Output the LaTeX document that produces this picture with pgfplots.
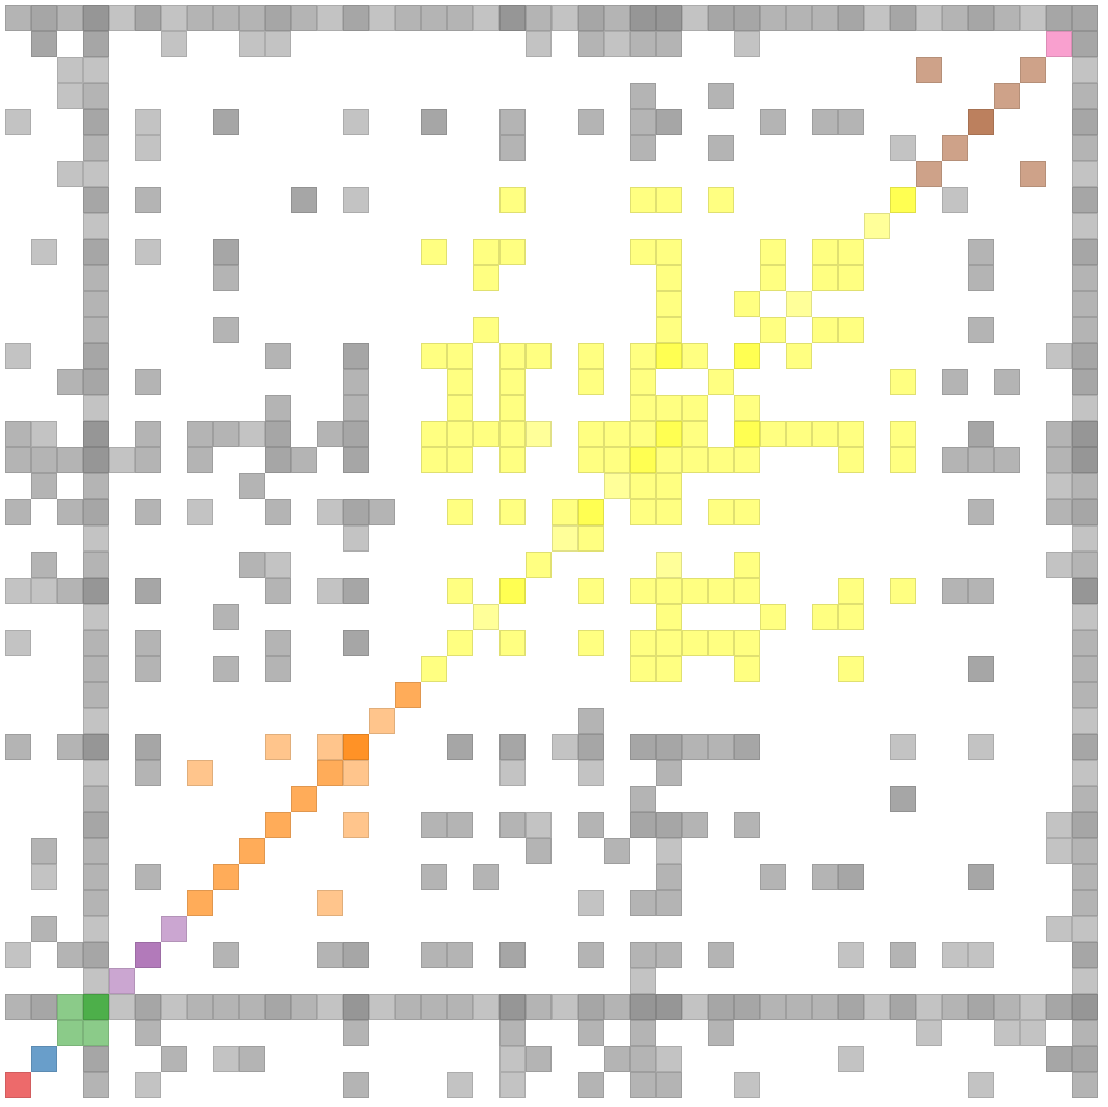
\documentclass[border=0pt]{standalone}
\usepackage{pgfplots}
\usepackage{pgfplotstable}
\pgfplotsset{compat=1.18}
\definecolor{sred}{HTML}{E41A1C}
\definecolor{sblue}{HTML}{377EB8}
\definecolor{sgreen}{HTML}{4DAF4A}
\definecolor{spurple}{HTML}{984EA3}
\definecolor{sorange}{HTML}{FF7F00}
\definecolor{syellow}{HTML}{FFFF33}
\definecolor{sbrown}{HTML}{A65628}
\definecolor{spink}{HTML}{F781BF}
\definecolor{grLc}{HTML}{C3C3C3}
\definecolor{grMc}{HTML}{B4B4B4}
\definecolor{grDc}{HTML}{A6A6A6}
\definecolor{grXc}{HTML}{969696}
\pgfplotsset{cell/.style={only marks, mark=square*, mark size=4.8pt,
  mark options={fill=#1, draw=#1!88!black, line width=0.4pt, solid}}}
\newcommand\sym[2]{%
  \addplot[cell=#1] table[x=a,y=b]{#2};
  \addplot[cell=#1] table[x=b,y=a]{#2};}
% pairs a<=b, drawn in both orientations (symmetric matrix)
\pgfplotstableread{
a b
4 41
6 41
12 41
14 41
18 41
21 41
26 41
33 41
35 41
39 41
3 4
3 6
3 12
3 14
3 18
3 21
3 26
3 33
3 35
3 39
6 40
9 40
10 40
20 40
23 40
28 40
2 39
2 38
0 37
5 37
13 37
5 36
34 36
2 35
13 34
1 32
5 32
0 28
1 25
9 25
4 24
7 22
12 22
13 21
10 20
0 19
1 19
12 19
0 17
1 8
0 5
}\grL
\pgfplotstableread{
a b
0 41
2 41
7 41
8 41
9 41
11 41
15 41
16 41
17 41
20 41
23 41
29 41
30 41
31 41
36 41
38 41
0 3
3 7
3 8
3 9
3 11
3 15
3 16
3 17
3 20
3 23
3 29
3 30
3 31
3 36
3 38
22 40
24 40
25 40
24 38
27 38
19 37
22 37
24 37
29 37
31 37
32 37
19 36
24 36
27 36
5 34
8 31
8 29
10 28
2 27
5 27
13 27
10 26
13 26
0 25
5 25
7 25
8 25
12 25
0 24
1 24
2 24
5 24
7 24
11 24
1 23
9 23
0 22
2 22
5 22
10 22
14 22
1 20
9 20
2 19
10 19
8 18
5 17
10 17
5 16
8 16
10 16
0 13
2 13
5 12
1 9
5 8
1 6
2 5
}\grM
\pgfplotstableread{
a b
1 41
5 41
10 41
13 41
22 41
27 41
28 41
32 41
34 41
37 41
40 41
41 41
1 3
3 5
3 10
3 22
3 27
3 28
3 32
3 34
3 37
3 40
1 40
8 37
16 37
25 37
11 34
8 32
13 28
10 25
13 25
10 24
13 24
13 22
5 19
13 19
13 17
5 13
}\grD
\pgfplotstableread{
a b
3 41
19 41
24 41
25 41
3 13
3 19
3 24
3 25
}\grX
\pgfplotstableread{
a b
18 18
21 21
23 23
30 30
33 33
20 25
}\yeL
\pgfplotstableread{
a b
16 16
17 17
20 20
26 26
27 27
29 29
31 31
32 32
19 34
24 34
25 34
27 34
16 32
18 32
19 32
24 32
25 32
29 32
31 32
18 31
25 31
29 31
25 30
28 30
18 29
25 29
16 28
17 28
19 28
20 28
22 28
24 28
26 28
17 27
19 27
22 27
24 27
17 26
19 26
24 26
25 26
16 25
17 25
18 25
19 25
22 25
23 25
24 25
16 24
17 24
19 24
22 24
23 24
17 22
19 22
21 22
17 19
}\yeM
\pgfplotstableread{
a b
19 19
22 22
24 24
25 25
28 28
34 34
25 28
}\yeD
\pgfplotstableread{
a b
14 14
10 13
12 13
7 12
}\orL
\pgfplotstableread{
a b
7 7
8 8
9 9
10 10
11 11
12 12
15 15
}\orM
\pgfplotstableread{
a b
35 35
36 36
38 38
39 39
35 39
}\brM
\pgfplotstableread{
a b
4 4
6 6
}\puL
\pgfplotstableread{
a b
2 2
2 3
}\gnL
\begin{document}
\begin{tikzpicture}
\begin{axis}[scale only axis, width=425.7pt, height=425pt,
  xmin=-0.69, xmax=41.88, ymin=-0.81, ymax=41.69,
  axis line style={draw=none}, ticks=none, clip=false]
\sym{grLc}{\grL}
\sym{grMc}{\grM}
\sym{grDc}{\grD}
\sym{grXc}{\grX}
\sym{syellow!50!white}{\yeL}
\sym{syellow!62!white}{\yeM}
\sym{syellow!85!white}{\yeD}
\sym{sorange!45!white}{\orL}
\sym{sorange!65!white}{\orM}
\addplot[cell=sorange!85!white] coordinates {(13,13)};
\sym{sbrown!55!white}{\brM}
\addplot[cell=sbrown!75!white] coordinates {(37,37)};
\sym{spurple!50!white}{\puL}
\addplot[cell=spurple!75!white] coordinates {(5,5)};
\sym{sgreen!65!white}{\gnL}
\addplot[cell=sgreen] coordinates {(3,3)};
\addplot[cell=sred!65!white] coordinates {(0,0)};
\addplot[cell=sblue!75!white] coordinates {(1,1)};
\addplot[cell=spink!75!white] coordinates {(40,40)};
\end{axis}
\end{tikzpicture}
\end{document}
